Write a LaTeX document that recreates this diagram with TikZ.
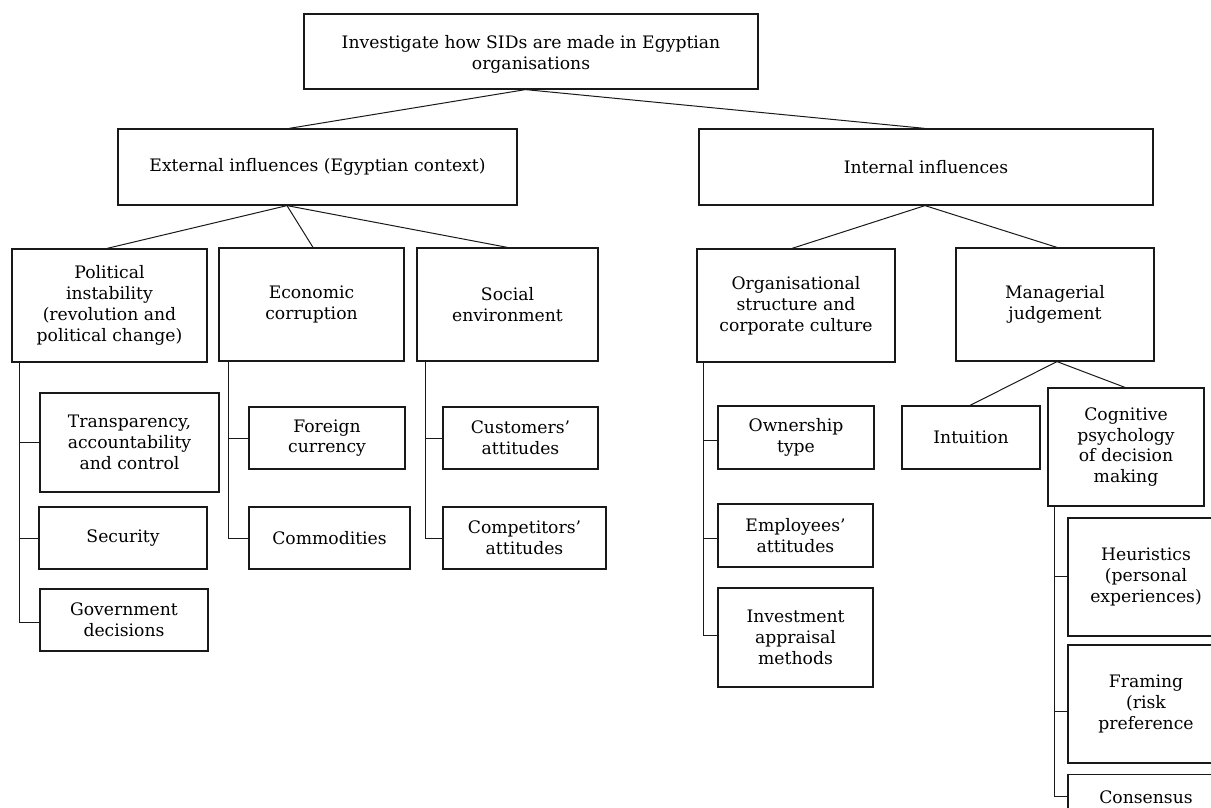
\documentclass[tikz,border=0pt]{standalone}
\usepackage{fontspec}
\setmainfont{DejaVu Serif}
\begin{document}
\begin{tikzpicture}[x=1pt,y=1pt,
  box/.style={draw=black!90,line width=1.2pt,align=center,inner sep=2pt,
    font=\fontsize{17.2}{20.8}\selectfont},
  link/.style={draw=black!90,line width=1pt}]
\useasboundingbox (0,0) rectangle (1211,-807);
\clip (0,0) rectangle (1211,-807);
% level 0 and 1
\node[box,minimum width=454,minimum height=75] (top) at (531,-51.5) {\rule{0pt}{19pt}Investigate how SIDs are made in Egyptian\\organisations};
\node[box,minimum width=399,minimum height=76] (ext) at (317.5,-167) {External influences (Egyptian context)};
\node[box,minimum width=454,minimum height=76] (int) at (926,-167) {Internal influences};
% level 2
\node[box,minimum width=195,minimum height=113] (pol) at (109.5,-305.5) {Political\\instability\\(revolution and\\political change)};
\node[box,minimum width=185,minimum height=113] (eco) at (311.5,-304.5) {Economic\\corruption};
\node[box,minimum width=181,minimum height=113] (soc) at (507.5,-304.5) {Social\\environment};
\node[box,minimum width=198,minimum height=113] (org) at (796,-305.5) {Organisational\\structure and\\corporate culture};
\node[box,minimum width=198,minimum height=113] (man) at (1055,-304.5) {Managerial\\judgement};
% level 3 - political
\node[box,minimum width=179,minimum height=99] (tra) at (129.5,-442.5) {Transparency,\\accountability\\and control};
\node[box,minimum width=168,minimum height=62] (sec) at (123,-538) {Security};
\node[box,minimum width=168,minimum height=62] (gov) at (124,-620) {Government\\decisions};
% economic
\node[box,minimum width=156,minimum height=62] (for) at (327,-438) {Foreign\\currency};
\node[box,minimum width=161,minimum height=62] (com) at (329.5,-538) {Commodities};
% social
\node[box,minimum width=155,minimum height=62] (cus) at (520.5,-438) {Customers’\\attitudes};
\node[box,minimum width=163,minimum height=62] (cmp) at (524.5,-538) {Competitors’\\attitudes};
% organisational
\node[box,minimum width=156,minimum height=63] (own) at (796,-437.5) {Ownership\\type};
\node[box,minimum width=155,minimum height=63] (emp) at (795.5,-535.5) {Employees’\\attitudes};
\node[box,minimum width=155,minimum height=99] (inv) at (795.5,-637.5) {Investment\\appraisal\\methods};
% managerial
\node[box,minimum width=138,minimum height=63] (intu) at (971,-437.5) {Intuition};
\node[box,minimum width=156,minimum height=118] (cog) at (1126,-447) {Cognitive\\psychology\\of decision\\making};
% cognitive
\node[box,minimum width=156,minimum height=118] (heu) at (1146,-577) {Heuristics\\(personal\\experiences)};
\node[box,minimum width=156,minimum height=118] (fra) at (1146,-704) {Framing\\(risk\\preference};
\node[box,minimum width=156,anchor=north,inner ysep=16pt,text height=13pt,text depth=90pt] (con) at (1146,-774) {Consensus};
% diagonal connectors
\draw[link] ([xshift=-5.5pt]top.south) -- ([xshift=-28.5pt]ext.north);
\draw[link] ([xshift=-5.5pt]top.south) -- ([xshift=-1pt]int.north);
\draw[link] ([xshift=-30.5pt]ext.south) -- ([xshift=-2.5pt]pol.north);
\draw[link] ([xshift=-30.5pt]ext.south) -- ([xshift=1.5pt]eco.north);
\draw[link] ([xshift=-30.5pt]ext.south) -- (soc.north);
\draw[link] ([xshift=-1pt]int.south) -- ([xshift=-4pt]org.north);
\draw[link] ([xshift=-1pt]int.south) -- ([xshift=2pt]man.north);
\draw[link] ([xshift=2pt]man.south) -- ([xshift=-1pt]intu.north);
\draw[link] ([xshift=2pt]man.south) -- ([xshift=-1pt]cog.north);
% trunk coordinates
\coordinate (polv) at ([xshift=8pt]pol.south west);
\coordinate (ecov) at ([xshift=10pt]eco.south west);
\coordinate (socv) at ([xshift=9pt]soc.south west);
\coordinate (orgv) at ([xshift=7.5pt]org.south west);
\coordinate (cogv) at ([xshift=7.5pt]cog.south west);
% trunk connectors
\draw[link] (polv) |- (tra.west);
\draw[link] (polv) |- (sec.west);
\draw[link] (polv) |- ([yshift=-2pt]gov.west);
\draw[link] (ecov) |- (for.west);
\draw[link] (ecov) |- (com.west);
\draw[link] (socv) |- (cus.west);
\draw[link] (socv) |- (cmp.west);
\draw[link] (orgv) |- ([yshift=-2.5pt]own.west);
\draw[link] (orgv) |- ([yshift=-2.5pt]emp.west);
\draw[link] (orgv) |- ([yshift=2.5pt]inv.west);
\draw[link] (cogv) |- ([yshift=1pt]heu.west);
\draw[link] (cogv) |- ([yshift=-7pt]fra.west);
\draw[link] (cogv) |- ([yshift=-22pt]con.north west);
\end{tikzpicture}
\end{document}
